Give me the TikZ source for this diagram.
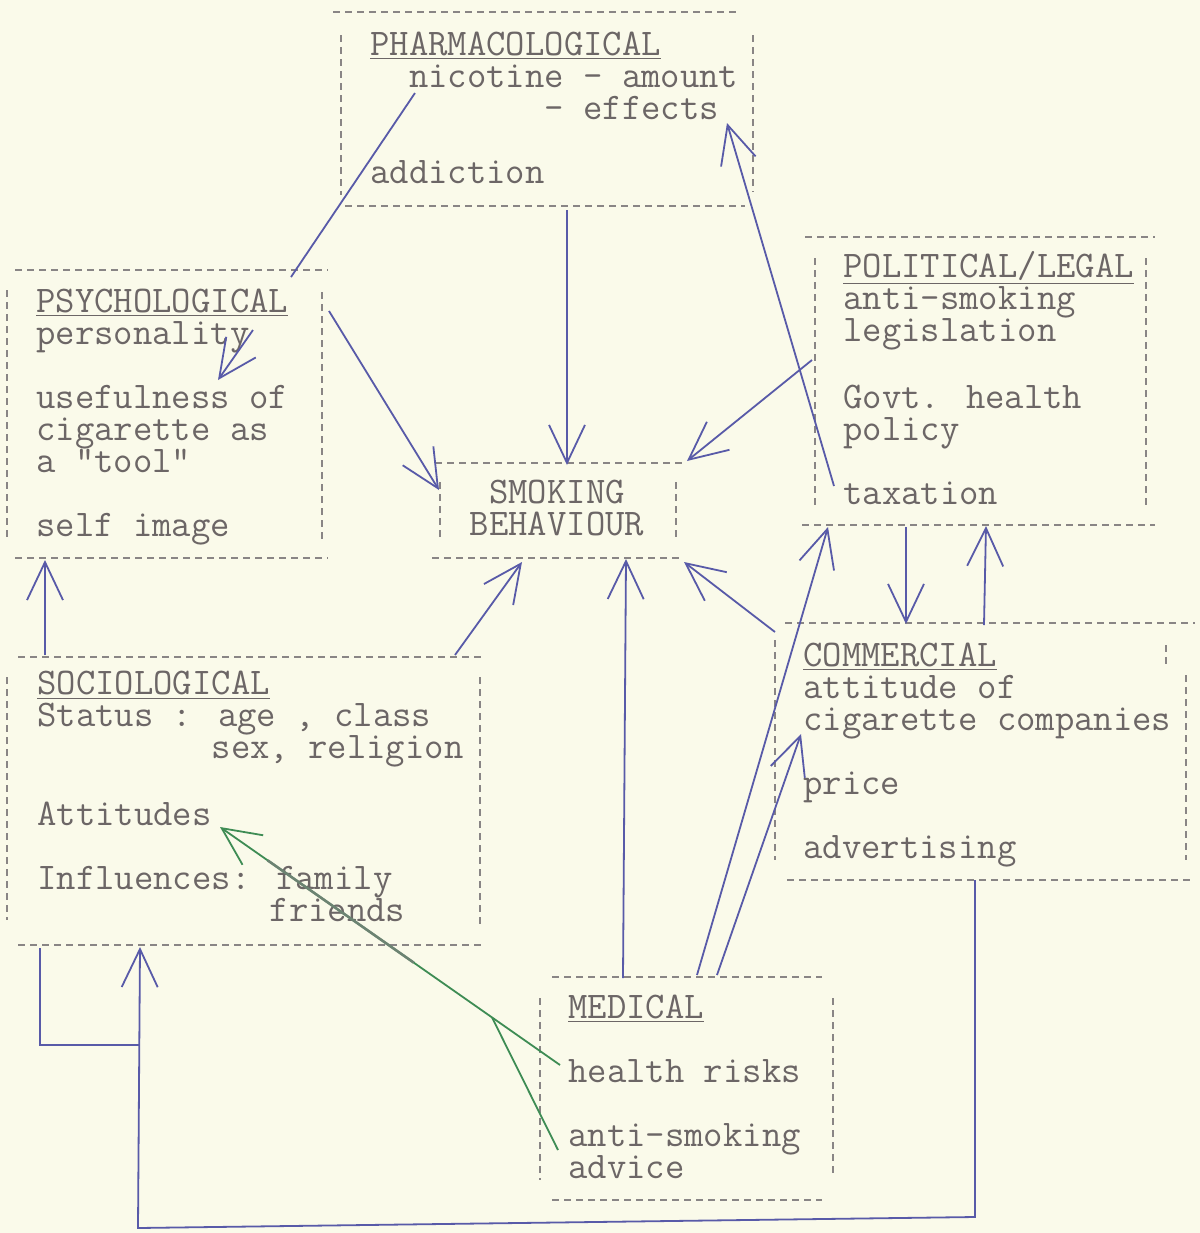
\documentclass[tikz,border=0pt]{standalone}
\usepackage{fontspec}
\usepackage{tikz}
\usetikzlibrary{arrows.meta,calc}

\definecolor{paper}{RGB}{250,250,234}
\definecolor{ink}{RGB}{108,102,102}
\definecolor{pen}{RGB}{88,90,168}
\definecolor{greenpen}{RGB}{62,140,84}

\newcommand{\indcol}[1]{\hspace*{#1\fontcharwd\font`m}}

\tikzset{
  frame/.style={ink!80, line width=0.7pt, dash pattern=on 3.5pt off 2.5pt},
  txt/.style={anchor=base west, align=left, inner sep=0pt, text=ink,
    font=\ttfamily\fontsize{18.8}{16}\selectfont},
  line/.style={pen, line width=0.9pt},
  arr/.style={line, -{Straight Barb[length=19pt,width=18pt]}},
  gline/.style={greenpen, line width=0.9pt},
  garr/.style={gline, -{Straight Barb[length=19pt,width=18pt]}}
}

\begin{document}
\begin{tikzpicture}[x=0.5pt,y=-0.5pt]
  \fill[paper] (0,0) rectangle (1200,1233);
  \useasboundingbox (0,0) rectangle (1200,1233);

  \node[txt] (pharm) at (370,183) {\underline{PHARMACOLOGICAL}\\
    \indcol{2}nicotine - amount\\
    \indcol{9}- effects\\[16pt]
    addiction};
  \node[txt] (psych) at (36,536) {\underline{PSYCHOLOGICAL}\\
    personality\\[16pt]
    usefulness of\\
    cigarette as\\
    a "tool"\\[16pt]
    self image};
  \node[txt, anchor=base, align=center] (smoke) at (557,535) {SMOKING\\BEHAVIOUR};
  \node[txt] (polit) at (843,504) {\underline{POLITICAL/LEGAL}\\
    anti-smoking\\
    legislation\\[16pt]
    Govt. health\\
    policy\\[16pt]
    taxation};
  \node[txt] (comm) at (803,858) {\underline{COMMERCIAL}\\
    attitude of\\
    cigarette companies\\[16pt]
    price\\[16pt]
    advertising};
  \node[txt] (socio) at (37,921) {\underline{SOCIOLOGICAL}\\
    Status : age , class\\
    \indcol{9}sex, religion\\[16pt]
    Attitudes\\[16pt]
    Influences: family\\
    \indcol{12}friends};
  \node[txt] (med) at (568,1178) {\underline{MEDICAL}\\[16pt]
    health risks\\[16pt]
    anti-smoking\\
    advice};

  \draw[frame] (333,12) -- (740,12);
  \draw[frame] (345,206) -- (745,206);
  \draw[frame] (341,35) -- (341,195);
  \draw[frame] (753,35) -- (753,192);

  \draw[frame] (15,270) -- (328,270);
  \draw[frame] (15,558) -- (328,558);
  \draw[frame] (7,290) -- (7,540);
  \draw[frame] (322,292) -- (322,540);

  \draw[frame] (435,463) -- (686,463);
  \draw[frame] (432,558) -- (682,558);
  \draw[frame] (440,482) -- (440,540);
  \draw[frame] (676,482) -- (676,540);

  \draw[frame] (805,237) -- (1155,237);
  \draw[frame] (802,525) -- (1155,525);
  \draw[frame] (815,258) -- (815,505);
  \draw[frame] (1146,258) -- (1146,505);

  \draw[frame] (785,623) -- (1195,623);
  \draw[frame] (787,880) -- (1193,880);
  \draw[frame] (775,640) -- (775,860);
  \draw[frame] (1166,645) -- (1166,665);
  \draw[frame] (1186,675) -- (1186,860);

  \draw[frame] (18,657) -- (485,657);
  \draw[frame] (18,945) -- (485,945);
  \draw[frame] (7,677) -- (7,920);
  \draw[frame] (480,677) -- (480,925);

  \draw[frame] (552,977) -- (822,977);
  \draw[frame] (552,1200) -- (822,1200);
  \draw[frame] (540,998) -- (540,1180);
  \draw[frame] (833,998) -- (833,1177);

  \coordinate (nicotine) at (415,93);
  \coordinate (psych-t) at (291,277);
  \coordinate (persona) at (253,330);
  \coordinate (useful) at (218,380);
  \coordinate (pharm-b) at (567,210);
  \coordinate (smoke-t) at (567,465);
  \coordinate (psych-r) at (329,311);
  \coordinate (smoke-tl) at (439,490);
  \coordinate (polit-l) at (812,360);
  \coordinate (smoke-tr) at (687,461);
  \coordinate (taxation) at (834,486);
  \coordinate (effects) at (727,123);
  \coordinate (socio-t) at (455,655);
  \coordinate (smoke-bl) at (522,562);
  \coordinate (med-t) at (623,978);
  \coordinate (smoke-b) at (626,559);
  \coordinate (comm-tl) at (775,632);
  \coordinate (smoke-br) at (684,562);
  \coordinate (med-t2) at (697,975);
  \coordinate (polit-bl) at (828,527);
  \coordinate (med-t3) at (717,975);
  \coordinate (comm-l) at (801,734);
  \coordinate (polit-b) at (906,527);
  \coordinate (comm-t) at (906,624);
  \coordinate (comm-t2) at (984,625);
  \coordinate (polit-b2) at (986,526);
  \coordinate (socio-tl) at (45,655);
  \coordinate (psych-b) at (45,560);
  \coordinate (risks) at (560,1065);
  \coordinate (attitudes) at (220,827);
  \coordinate (advice) at (558,1150);
  \coordinate (join) at ($(risks)!0.2!(attitudes)$);
  \coordinate (comm-b) at (975,880);
  \coordinate (loop-r) at (975,1217);
  \coordinate (loop-l) at (138,1228);
  \coordinate (socio-b) at (140,947);
  \coordinate (socio-bl) at (40,948);
  \coordinate (hook) at (140,1045);

  \draw[line] (nicotine) -- (psych-t);
  \draw[arr] (persona) -- (useful);
  \draw[arr] (pharm-b) -- (smoke-t);
  \draw[arr] (psych-r) -- (smoke-tl);
  \draw[arr] (polit-l) -- (smoke-tr);
  \draw[arr] (taxation) -- (effects);
  \draw[arr] (socio-t) -- (smoke-bl);
  \draw[arr] (med-t) -- (smoke-b);
  \draw[arr] (comm-tl) -- (smoke-br);
  \draw[arr] (med-t2) -- (polit-bl);
  \draw[arr] (med-t3) -- (comm-l);
  \draw[arr] (polit-b) -- (comm-t);
  \draw[arr] (comm-t2) -- (polit-b2);
  \draw[arr] (socio-tl) -- (psych-b);
  \draw[arr] (comm-b) -- (loop-r) -- (loop-l) -- (socio-b);
  \draw[line] (socio-bl) |- (hook);

  \draw[garr] (risks) -- (attitudes);
  \draw[gline] (advice) -- (join);
  \draw[gray!70!greenpen, line width=1.3pt] ($(risks)!0.43!(attitudes)$) -- ($(risks)!0.86!(attitudes)$);
\end{tikzpicture}
\end{document}
